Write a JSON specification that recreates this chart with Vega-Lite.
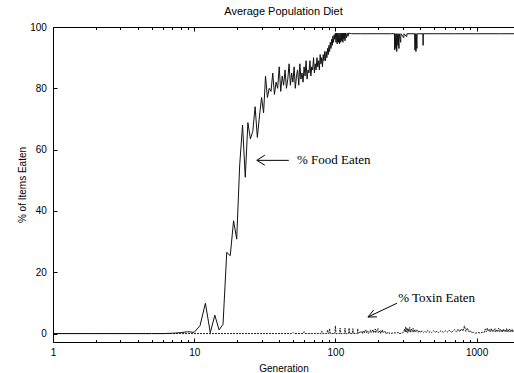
{
  "$schema": "https://vega.github.io/schema/vega-lite/v6.json",
  "autosize": "none",
  "width": 461,
  "height": 315,
  "padding": {"left": 53, "top": 27, "right": 0, "bottom": 31},
  "background": "white",
  "title": {"text": "Average Population Diet", "font": "Liberation Sans", "fontSize": 11, "fontWeight": "normal", "color": "black", "offset": 5, "anchor": "middle"},
  "config": {
    "view": {"stroke": "black", "strokeWidth": 1},
    "axis": {"labelFont": "Liberation Sans", "labelFontSize": 10, "labelColor": "black", "titleFont": "Liberation Sans", "titleFontSize": 10, "titleFontWeight": "normal", "titleColor": "black", "tickColor": "black", "grid": false, "domain": false}
  },
  "datasets": {
    "food": [
      {"gen":1,"val":0},{"gen":2,"val":0},{"gen":3,"val":0},{"gen":4,"val":0},{"gen":5,"val":0},{"gen":6,"val":0},{"gen":7,"val":0.1},{"gen":8,"val":0.3},{"gen":9,"val":0.6},{"gen":10,"val":0.4},
      {"gen":11,"val":2.6},{"gen":12,"val":9.9},{"gen":13,"val":0.3},{"gen":14,"val":6},{"gen":15,"val":1.2},{"gen":16,"val":3},{"gen":17,"val":26.5},{"gen":18,"val":25.4},{"gen":19,"val":36.8},{"gen":20,"val":30.8},
      {"gen":21,"val":55},{"gen":22,"val":68},{"gen":23,"val":51},{"gen":24,"val":68.8},{"gen":25,"val":63.5},{"gen":26,"val":66},{"gen":27,"val":74},{"gen":28,"val":64},{"gen":29,"val":71},{"gen":30,"val":77},
      {"gen":31,"val":72},{"gen":32,"val":84},{"gen":33,"val":77},{"gen":34,"val":80},{"gen":35,"val":79},{"gen":36,"val":85},{"gen":37,"val":78},{"gen":38,"val":82},{"gen":39,"val":80},{"gen":40,"val":87},
      {"gen":41,"val":79},{"gen":42,"val":84},{"gen":43,"val":81},{"gen":44,"val":86},{"gen":45,"val":80},{"gen":46,"val":83},{"gen":47,"val":88},{"gen":48,"val":81},{"gen":49,"val":85},{"gen":50,"val":82},
      {"gen":51,"val":87},{"gen":52,"val":80},{"gen":53,"val":84},{"gen":54,"val":86},{"gen":55,"val":81},{"gen":56,"val":88},{"gen":57,"val":83},{"gen":58,"val":85},{"gen":59,"val":82},{"gen":60,"val":87},
      {"gen":61,"val":84},{"gen":62,"val":89},{"gen":63,"val":83},{"gen":64,"val":86},{"gen":65,"val":85},{"gen":66,"val":89},{"gen":67,"val":84},{"gen":68,"val":87},{"gen":69,"val":86},{"gen":70,"val":90},
      {"gen":71,"val":85},{"gen":72,"val":88},{"gen":73,"val":86},{"gen":74,"val":90},{"gen":75,"val":87},{"gen":76,"val":89},{"gen":77,"val":86},{"gen":78,"val":91},{"gen":79,"val":88},{"gen":80,"val":90},
      {"gen":81,"val":87},{"gen":82,"val":91},{"gen":83,"val":89},{"gen":84,"val":92},{"gen":85,"val":89},{"gen":86,"val":92},{"gen":87,"val":90},{"gen":88,"val":93},{"gen":89,"val":91},{"gen":90,"val":94},
      {"gen":91,"val":92},{"gen":92,"val":95},{"gen":93,"val":93},{"gen":94,"val":96},{"gen":95,"val":94},{"gen":96,"val":97},{"gen":97,"val":95},{"gen":98,"val":97.5},{"gen":99,"val":96},{"gen":100,"val":98},
      {"gen":101,"val":95},{"gen":102,"val":98},{"gen":103,"val":94.5},{"gen":104,"val":98},{"gen":105,"val":95},{"gen":106,"val":98},{"gen":107,"val":94.5},{"gen":108,"val":98},{"gen":109,"val":95},{"gen":110,"val":98},
      {"gen":111,"val":95.5},{"gen":112,"val":98},{"gen":113,"val":95},{"gen":114,"val":98},{"gen":115,"val":96},{"gen":116,"val":98},{"gen":117,"val":95.5},{"gen":118,"val":98},{"gen":120,"val":96.5},{"gen":121,"val":98},
      {"gen":123,"val":97},{"gen":124,"val":98},{"gen":130,"val":97.8},{"gen":150,"val":97.8},{"gen":200,"val":97.8},{"gen":250,"val":97.8},{"gen":262,"val":97.8},{"gen":263,"val":92.5},{"gen":264,"val":97.8},
      {"gen":268,"val":93},{"gen":269,"val":97.8},{"gen":272,"val":92},{"gen":273,"val":97.8},{"gen":277,"val":94},{"gen":278,"val":97.8},{"gen":282,"val":93},{"gen":283,"val":97.8},{"gen":290,"val":95},{"gen":291,"val":97.8},
      {"gen":305,"val":96.5},{"gen":306,"val":97.8},{"gen":320,"val":96.8},{"gen":321,"val":97.8},{"gen":365,"val":97.8},{"gen":366,"val":92.5},{"gen":367,"val":97.8},{"gen":372,"val":92},{"gen":373,"val":97.8},
      {"gen":378,"val":93},{"gen":379,"val":97.8},{"gen":417,"val":97.8},{"gen":418,"val":94},{"gen":419,"val":97.8},{"gen":500,"val":97.8},{"gen":700,"val":97.8},{"gen":1000,"val":97.8},{"gen":1500,"val":97.8},{"gen":1840,"val":97.8}
    ],
    "toxin": [
      {"gen":1,"val":0},{"gen":49,"val":0},{"gen":50,"val":0.4},{"gen":51,"val":0},{"gen":59,"val":0},{"gen":60,"val":0.6},{"gen":61,"val":0},{"gen":79,"val":0},{"gen":80,"val":0.8},{"gen":81,"val":0},
      {"gen":87,"val":0},{"gen":88,"val":1.2},{"gen":89,"val":0},{"gen":90,"val":0},{"gen":91,"val":1.6},{"gen":92,"val":0},{"gen":99,"val":0},{"gen":100,"val":2.5},{"gen":101,"val":0},
      {"gen":107,"val":0},{"gen":108,"val":1.8},{"gen":109,"val":0},{"gen":116,"val":0},{"gen":117,"val":1.8},{"gen":118,"val":0},{"gen":124,"val":0},{"gen":125,"val":1.8},{"gen":126,"val":0},
      {"gen":132,"val":0},{"gen":133,"val":1.6},{"gen":134,"val":0},{"gen":143,"val":0},{"gen":144,"val":1.6},{"gen":145,"val":0},{"gen":150,"val":0.6},{"gen":151,"val":0.2},{"gen":155,"val":0.8},{"gen":156,"val":0},
      {"gen":160,"val":1},{"gen":161,"val":0.3},{"gen":165,"val":1.2},{"gen":166,"val":0.2},{"gen":170,"val":0.8},{"gen":171,"val":0},{"gen":178,"val":1.2},{"gen":179,"val":0.3},{"gen":185,"val":1.3},{"gen":186,"val":0.2},
      {"gen":192,"val":1.5},{"gen":193,"val":0.3},{"gen":200,"val":1.6},{"gen":201,"val":0.2},{"gen":208,"val":1},{"gen":209,"val":0},{"gen":215,"val":1.2},{"gen":216,"val":0.3},{"gen":225,"val":0.8},{"gen":226,"val":0},
      {"gen":240,"val":0.4},{"gen":241,"val":0},{"gen":260,"val":0.2},{"gen":280,"val":0.3},{"gen":281,"val":0},{"gen":300,"val":0.2},{"gen":310,"val":1.5},{"gen":312,"val":0.4},{"gen":315,"val":2.2},{"gen":318,"val":0.5},
      {"gen":322,"val":1.8},{"gen":325,"val":0.3},{"gen":328,"val":1.6},{"gen":332,"val":0.5},{"gen":336,"val":2},{"gen":340,"val":0.4},{"gen":345,"val":1.5},{"gen":350,"val":0.6},{"gen":355,"val":1.7},{"gen":360,"val":0.4},
      {"gen":366,"val":1.3},{"gen":372,"val":0.5},{"gen":378,"val":1.2},{"gen":385,"val":0.4},{"gen":392,"val":1},{"gen":400,"val":0.3},{"gen":410,"val":0.9},{"gen":420,"val":0.4},{"gen":430,"val":0.8},{"gen":440,"val":0.3},
      {"gen":450,"val":1},{"gen":460,"val":0.4},{"gen":470,"val":0.7},{"gen":480,"val":0.3},{"gen":495,"val":0.9},{"gen":510,"val":0.4},{"gen":525,"val":0.8},{"gen":540,"val":0.3},{"gen":560,"val":1},{"gen":580,"val":0.4},
      {"gen":600,"val":0.9},{"gen":620,"val":0.5},{"gen":640,"val":1.1},{"gen":660,"val":0.4},{"gen":680,"val":0.8},{"gen":700,"val":1.3},{"gen":720,"val":0.5},{"gen":740,"val":1.5},{"gen":760,"val":0.6},{"gen":780,"val":1.6},
      {"gen":800,"val":0.8},{"gen":820,"val":2.5},{"gen":840,"val":0.7},{"gen":860,"val":1.8},{"gen":880,"val":0.5},{"gen":900,"val":1},{"gen":920,"val":0.3},{"gen":950,"val":0.4},{"gen":980,"val":0.1},{"gen":1020,"val":0.3},
      {"gen":1060,"val":0.2},{"gen":1100,"val":0.4},{"gen":1130,"val":0.3},{"gen":1150,"val":1.5},{"gen":1170,"val":0.6},{"gen":1190,"val":1.8},{"gen":1210,"val":0.7},{"gen":1230,"val":1.4},{"gen":1250,"val":0.5},{"gen":1270,"val":1.7},
      {"gen":1290,"val":0.6},{"gen":1310,"val":1.3},{"gen":1330,"val":0.7},{"gen":1350,"val":1.6},{"gen":1370,"val":0.5},{"gen":1390,"val":1.2},{"gen":1410,"val":0.6},{"gen":1430,"val":1.8},{"gen":1450,"val":0.7},{"gen":1470,"val":1.4},
      {"gen":1490,"val":0.6},{"gen":1510,"val":1.3},{"gen":1530,"val":0.5},{"gen":1550,"val":1.5},{"gen":1570,"val":0.7},{"gen":1590,"val":1.2},{"gen":1610,"val":0.5},{"gen":1630,"val":1.6},{"gen":1650,"val":0.6},{"gen":1670,"val":1.3},
      {"gen":1690,"val":0.7},{"gen":1710,"val":1.5},{"gen":1730,"val":0.5},{"gen":1750,"val":1.2},{"gen":1770,"val":0.6},{"gen":1790,"val":1.4},{"gen":1810,"val":0.5},{"gen":1840,"val":1}
    ],
    "notes": [
      {"tx": 53.4, "ty": 56.5, "label": "% Food Eaten"},
      {"tx": 278.6, "ty": 11.5, "label": "% Toxin Eaten"}
    ],
    "arrows": [
      {"ax": 27.77, "ay": 56.5, "ax2": 46.8, "ay2": 56.5},
      {"ax": 27.77, "ay": 56.5, "ax2": 31.64, "ay2": 58.2},
      {"ax": 27.77, "ay": 56.5, "ax2": 31.64, "ay2": 54.9},
      {"ax": 169.9, "ay": 5.4, "ax2": 272.8, "ay2": 9.9},
      {"ax": 169.9, "ay": 5.4, "ax2": 186.5, "ay2": 7.66},
      {"ax": 169.9, "ay": 5.4, "ax2": 196.9, "ay2": 5.45}
    ]
  },
  "resolve": {"axis": {"x": "independent"}},
  "layer": [
    {
      "data": {"name": "toxin"},
      "mark": {"type": "line", "color": "#222", "strokeWidth": 1, "strokeDash": [2, 1], "clip": true},
      "encoding": {
        "x": {"field": "gen", "type": "quantitative", "scale": {"type": "log", "domain": [1, 1840], "nice": false},
          "axis": {"orient": "bottom", "offset": -4, "values": [1,2,3,4,5,6,7,8,9,10,20,30,40,50,60,70,80,90,100,200,300,400,500,600,700,800,900,1000],
            "labelExpr": "indexof([1,10,100,1000], datum.value) >= 0 ? format(datum.value, 'd') : ''",
            "tickSize": 4,
            "tickDash": {"condition": {"test": "indexof([1,10,100,1000], datum.value) >= 0", "value": [4, 0]}, "value": [0, 1.5, 2.5, 10]},
            "labelPadding": 5.5, "labelFlush": false, "labelOverlap": false, "title": "Generation", "titlePadding": 6}},
        "y": {"field": "val", "type": "quantitative", "scale": {"domain": [-2.75, 100], "nice": false, "zero": false},
          "axis": {"values": [0,20,40,60,80,100], "offset": -4, "tickSize": 4, "labelPadding": 6.6, "title": "% of Items Eaten", "titlePadding": 2}}
      }
    },
    {
      "data": {"name": "food"},
      "mark": {"type": "line", "color": "#111", "strokeWidth": 1, "clip": true},
      "encoding": {
        "x": {"field": "gen", "type": "quantitative",
          "axis": {"orient": "top", "offset": -4, "values": [1,2,3,4,5,6,7,8,9,10,20,30,40,50,60,70,80,90,100,200,300,400,500,600,700,800,900,1000],
            "labels": false, "title": null, "tickSize": 4,
            "tickDash": {"condition": {"test": "indexof([1,10,100,1000], datum.value) >= 0", "value": [4, 0]}, "value": [0, 1.5, 2.5, 10]}}},
        "y": {"field": "val", "type": "quantitative"}
      }
    },
    {
      "data": {"name": "arrows"},
      "mark": {"type": "rule", "color": "black", "strokeWidth": 1},
      "encoding": {
        "x": {"field": "ax", "type": "quantitative", "axis": null},
        "x2": {"field": "ax2"},
        "y": {"field": "ay", "type": "quantitative"},
        "y2": {"field": "ay2"}
      }
    },
    {
      "data": {"name": "notes"},
      "mark": {"type": "text", "align": "left", "baseline": "middle", "font": "Liberation Serif", "fontSize": 13, "color": "black"},
      "encoding": {
        "x": {"field": "tx", "type": "quantitative", "axis": null},
        "y": {"field": "ty", "type": "quantitative"},
        "text": {"field": "label"}
      }
    }
  ]
}
